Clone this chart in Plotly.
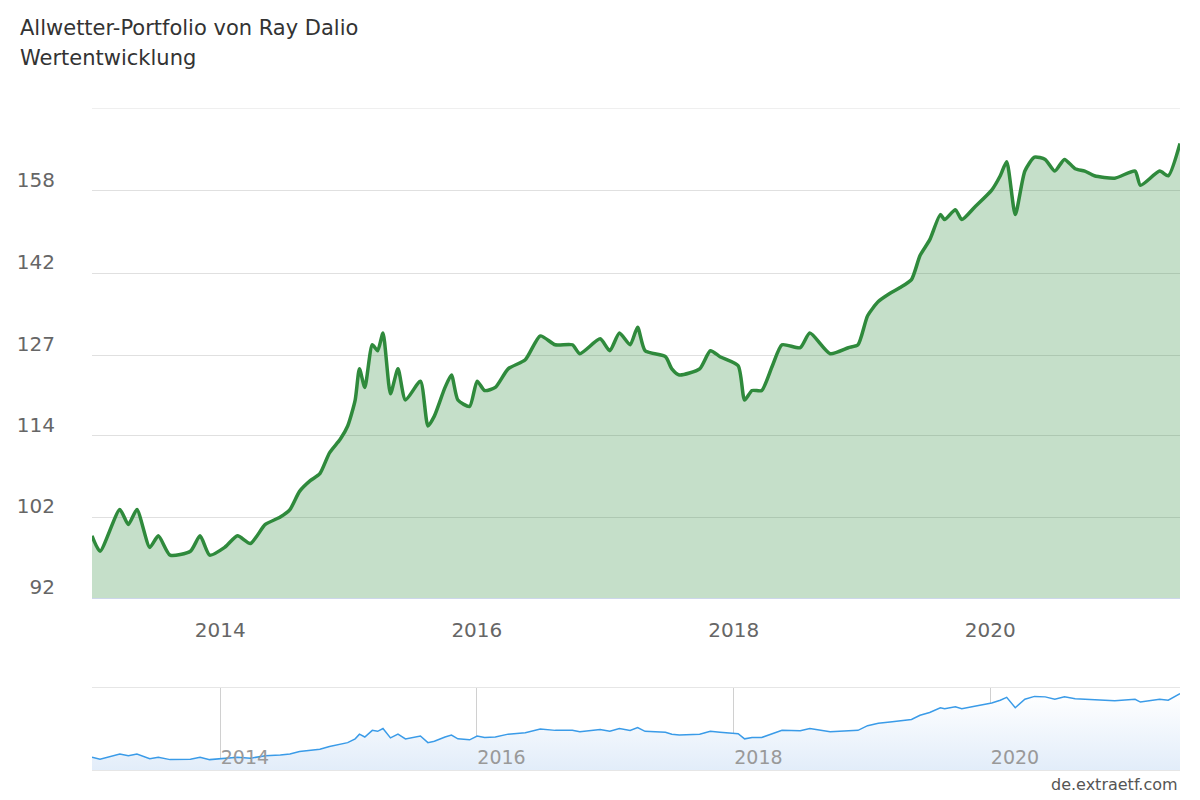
import numpy as np
import pandas as pd
import plotly.graph_objects as go

# month offsets from Jan 2013 and portfolio values
months = [0, 0.75, 2.6, 3.4, 4.2, 5.4, 6.2, 7.3, 9.2, 10.1, 11, 12.4, 13.6, 14.8, 16.2, 17.6,
          18.5, 19.4, 20.4, 21.3, 22.2, 23.2, 23.9, 24.6, 25, 25.5, 26.2, 26.7, 27.2, 27.9,
          28.6, 29.3, 30.7, 31.4, 32, 33, 33.6, 34.2, 35.3, 36, 36.7, 37.7, 38.9, 40.5, 41.9,
          43.3, 44.9, 45.6, 47.5, 48.4, 49.3, 50.3, 51, 51.7, 53.6, 54.2, 54.9, 56.8, 57.8,
          58.7, 60.4, 61, 61.7, 62.6, 63.6, 64.5, 66.2, 67.1, 69, 70.7, 71.6, 72.5, 73.5,
          74.6, 75.5, 76.6, 77.4, 78.3, 79.3, 79.7, 80.7, 81.3, 82.5, 84.1, 84.9, 85.5, 86.3,
          87.2, 88.1, 89.1, 90, 90.9, 91.9, 92.8, 93.7, 95.6, 97.5, 98, 99.8, 100.6, 101.7]
values = [98.5, 96.5, 102, 100, 102, 97, 98.5, 96, 96.5, 98.5, 96, 97, 98.5, 97.5, 100, 101,
          102, 104.5, 106, 107, 110, 112, 114, 118, 123, 120, 127, 126, 129, 119,
          123, 118, 121, 114, 115.5, 120, 122, 118, 117, 121, 119.5, 120, 123, 124.5, 128.5,
          127, 127, 125.5, 128, 126, 129, 127, 130, 126, 125, 123, 122, 123, 126,
          125, 123.5, 118, 119.5, 119.5, 123.5, 127, 126.5, 129, 125.5, 126.5, 127, 132, 134.5,
          136, 137, 138.5, 143, 146, 151, 150, 152, 150, 152.5, 156, 159, 162, 151,
          160, 163, 162.5, 160, 162.5, 160.5, 160, 159, 158.5, 160, 157, 160, 159, 166]

grid_vals = [101.0, 112.5, 125.2, 139.7, 155.9, 174.0]
y_ticks = [90.7, 101.0, 112.5, 125.2, 139.7, 155.9]
y_labels = ["92", "102", "114", "127", "142", "158"]
year_ticks = ["2014-01-01", "2016-01-01", "2018-01-01", "2020-01-01"]
year_labels = ["2014", "2016", "2018", "2020"]

start = pd.Timestamp("2013-01-01")
dates = [start + pd.Timedelta(days=m * 30.44) for m in months]
x_range = [dates[0], dates[-1]]

fig = go.Figure()
fig.add_trace(go.Scatter(x=dates, y=[80] * len(dates), mode="lines", line=dict(width=0),
                         hoverinfo="skip", showlegend=False))
fig.add_trace(go.Scatter(x=dates, y=values, mode="lines", fill="tonexty",
                         fillcolor="rgba(46,139,62,0.28)",
                         line=dict(color="#2f8a3c", width=3.5, shape="spline", smoothing=0.6),
                         showlegend=False))
fig.add_trace(go.Scatter(x=dates, y=values, mode="lines", xaxis="x2", yaxis="y2",
                         fill="tozeroy",
                         fillgradient=dict(type="vertical",
                                           colorscale=[[0, "rgb(196,218,244)"], [1, "rgb(255,255,255)"]]),
                         line=dict(color="#3a9be8", width=1.5), showlegend=False))

fig.update_layout(
    width=1200, height=800,
    paper_bgcolor="#ffffff", plot_bgcolor="#ffffff",
    margin=dict(l=84, r=28, t=100, b=38),
    font=dict(family="DejaVu Sans, sans-serif", color="#666666"),
    xaxis=dict(range=x_range, domain=[0, 1], tickvals=year_ticks, ticktext=year_labels,
               tickfont=dict(size=20, color="#666666"), showgrid=False, showline=True,
               linecolor="#ccd6eb", ticks="", anchor="y", automargin=False,
               ticklabelstandoff=14),
    yaxis=dict(type="log", range=[np.log10(90.7), np.log10(174.0)], domain=[0.26, 1],
               tickvals=y_ticks, ticktext=y_labels, tickfont=dict(size=20, color="#666666"),
               gridcolor="#e0e0e0", zeroline=False, ticks="", ticklabelshift=-11,
               ticklabelstandoff=36, automargin=False),
    xaxis2=dict(range=x_range, domain=[0, 1], anchor="y2", tickvals=year_ticks, ticktext=year_labels,
                tickfont=dict(size=19, color="#999999"), showgrid=True, gridcolor="#d0d0d0",
                ticklabelposition="inside right", ticks="", showline=True, linecolor="#e6e6e6",
                mirror=True, automargin=False),
    yaxis2=dict(range=[85, 172], domain=[0, 0.124], showticklabels=False, showgrid=False,
                zeroline=False),
    shapes=[dict(type="line", xref="paper", yref="y", x0=0, x1=1, y0=v, y1=v,
                 line=dict(color="#e0e0e0", width=1), layer="below") for v in grid_vals[-1:]],
    annotations=[
        dict(text="Allwetter-Portfolio von Ray Dalio", xref="paper", yref="paper",
             x=-74 / 1088, y=1 + 80 / 662, xanchor="left", yanchor="middle", align="left",
             showarrow=False, font=dict(size=21, color="#333333")),
        dict(text="Wertentwicklung", xref="paper", yref="paper",
             x=-74 / 1088, y=1 + 50 / 662, xanchor="left", yanchor="middle", align="left",
             showarrow=False, font=dict(size=21, color="#333333")),
        dict(text="de.extraetf.com", xref="paper", yref="paper", x=1.0, y=-0.005,
             xanchor="right", yanchor="top", showarrow=False,
             font=dict(size=16, color="#555555")),
    ],
)

fig.write_html("out.html")
